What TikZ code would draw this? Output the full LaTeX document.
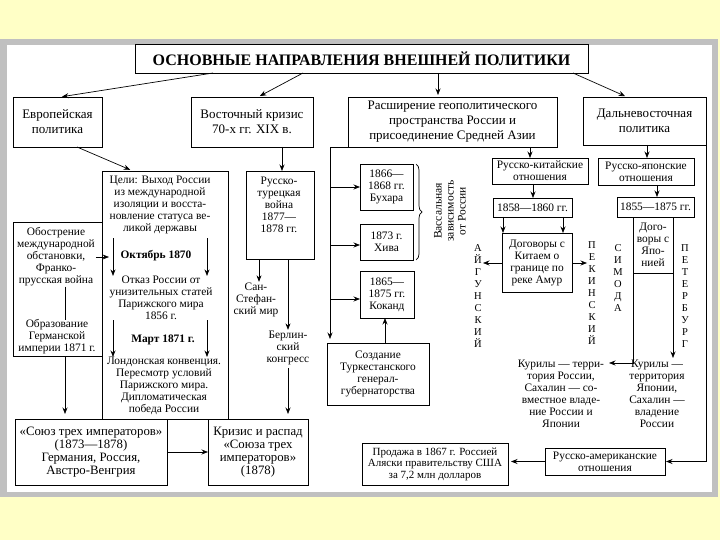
\documentclass[tikz,border=0pt]{standalone}
\usepackage{fontspec}
\setmainfont{Liberation Serif}
\usetikzlibrary{arrows.meta,decorations.pathreplacing,calc}
\definecolor{bgyellow}{RGB}{255,255,198}
\definecolor{framegray}{RGB}{192,192,192}
\newcommand\ftn{\fontsize{11.4}{12}\selectfont}
\newcommand\fttop{\fontsize{13}{15}\selectfont}
\newcommand\ftbig{\fontsize{12.8}{13}\selectfont}
\begin{document}
\begin{tikzpicture}[x=1pt,y=-1pt,
 box/.style={draw, line width=0.8pt, inner sep=0pt, outer sep=0pt, align=center, anchor=north west, font=\ftn},
 lbl/.style={align=center, inner sep=0pt, font=\ftn},
 arr/.style={-{Stealth[length=6.5pt,width=5pt]}, line width=0.7pt},
 ln/.style={line width=0.7pt},
 vcol/.style={align=center, inner sep=0pt, font=\fontsize{10.5}{11.9}\selectfont}]
\useasboundingbox (0,0) rectangle (720,540);
\fill[bgyellow] (0,0) rectangle (720,540);
\fill[framegray] (0,39) rectangle (718,497);
\fill[white] (7,45) rectangle (712,492);

% title
\node[box, minimum width=453pt, minimum height=29pt, font={\fontsize{16}{18}\selectfont\bfseries}] (title) at (135,44) {ОСНОВНЫЕ НАПРАВЛЕНИЯ ВНЕШНЕЙ ПОЛИТИКИ};

% row 1
\node[box, font=\fttop, minimum width=89pt, minimum height=50pt] (eur) at (13,97) {Европейская\\политика};
\node[box, font=\fttop, minimum width=122pt, minimum height=50pt] (vost) at (191,97) {Восточный кризис\\70-х гг. XIX в.};
\node[box, font=\fttop, minimum width=209pt, minimum height=50pt] (ras) at (348,97) {Расширение геополитического\\пространства России и\\присоединение Средней Азии};
\node[box, font=\fttop, minimum width=123pt, minimum height=48pt] (dal) at (583,97) {Дальневосточная\\политика};

% European block
\node[box, minimum width=126pt, minimum height=248pt] (celi) at (102,171) {};
\node[box, minimum width=89pt, minimum height=134pt] (obostr) at (13,222) {};
\node[lbl] (obtext) at (56,257) {Обострение\\международной\\обстановки,\\Франко-\\прусская война};
\node[lbl] (obr) at (57,337) {Образование\\Германской\\империи 1871 г.};
\node[lbl] (celitext) at (160,205) {Цели: Выход России\\из международной\\изоляции и восста-\\новление статуса ве-\\ликой державы};
\node[lbl, font=\ftn\bfseries] (okt) at (156,256) {Октябрь 1870};
\node[lbl] (otkaz) at (161,298) {Отказ России от\\унизительных статей\\Парижского мира\\1856 г.};
\node[lbl, font=\ftn\bfseries] (mart) at (163,340) {Март 1871 г.};
\node[lbl] (lond) at (164,386) {Лондонская конвенция.\\Пересмотр условий\\Парижского мира.\\Дипломатическая\\победа России};
\node[box, font=\ftbig, minimum width=152pt, minimum height=66pt] (soyuz) at (15,419) {«Союз трех императоров»\\(1873—1878)\\Германия, Россия,\\Австро-Венгрия};
\node[box, font=\ftbig, minimum width=100pt, minimum height=66pt] (kriz) at (208,419) {Кризис и распад\\«Союза трех\\императоров»\\(1878)};
\coordinate (obtip) at (109,257);

% Eastern crisis
\node[box, minimum width=68pt, minimum height=88pt] (rt) at (246,171) {};
\node[lbl] (rttext) at (279,205) {Русско-\\турецкая\\война\\1877—\\1878 гг.};
\node[lbl] (san) at (256,300) {Сан-\\Стефан-\\ский мир};
\node[lbl] (berl) at (288,348) {Берлин-\\ский\\конгресс};

% Central Asia
\coordinate (rc) at (330,147);
\node[box, minimum width=53pt, minimum height=46pt] (buh) at (360,164) {1866—\\1868 гг.\\Бухара};
\node[box, minimum width=53pt, minimum height=36pt] (hiva) at (360,224) {1873 г.\\Хива};
\node[box, minimum width=54pt, minimum height=47pt] (kok) at (360,271) {1865—\\1875 гг.\\Коканд};
\node[box, minimum width=102pt, minimum height=62pt] (sozd) at (327,343) {Создание\\Туркестанского\\генерал-\\губернаторства};
\node[lbl, rotate=90, font=\fontsize{11.5}{12}\selectfont] (vass) at (450,211) {Вассальная\\зависимость\\от России};

% Far East
\node[box, minimum width=96pt, minimum height=26pt] (rk) at (492,158) {Русско-китайские\\отношения};
\node[box, minimum width=96pt, minimum height=27pt] (rj) at (598,158) {Русско-японские\\отношения};
\node[box, minimum width=79pt, minimum height=19pt] (d58) at (493,198) {1858—1860 гг.};
\node[box, minimum width=70pt, minimum height=59pt] (dk) at (502,233) {Договоры с\\Китаем о\\границе по\\реке Амур};
\node[box, minimum width=77pt, minimum height=20pt] (d55) at (617,197) {1855—1875 гг.};
\node[box, minimum width=40pt, minimum height=56pt] (dj) at (633,217) {Дого-\\воры с\\Япо-\\нией};
\node[vcol] (aig) at (478,296) {А\\Й\\Г\\У\\Н\\С\\К\\И\\Й};
\node[vcol] (pek) at (592,293) {П\\Е\\К\\И\\Н\\С\\К\\И\\Й};
\node[vcol] (sim) at (618,278) {С\\И\\М\\О\\Д\\А};
\node[vcol] (pet) at (685,296) {П\\Е\\Т\\Е\\Р\\Б\\У\\Р\\Г};
\node[lbl] (kur1) at (561,394) {Курилы — терри-\\тория России,\\Сахалин — со-\\вместное владе-\\ние России и\\Японии};
\node[lbl] (kur2) at (657,394) {Курилы —\\территория\\Японии,\\Сахалин —\\владение\\России};
\node[box, minimum width=120pt, minimum height=27pt] (ra) at (545,448) {Русско-американские\\отношения};
\node[box, font=\fontsize{11}{11.5}\selectfont, minimum width=146pt, minimum height=42pt] (pr) at (362,443) {Продажа в 1867 г. Россией\\Аляски правительству США\\за 7,2 млн долларов};
\coordinate (kurtip) at (609,363);

% connectors from title
\draw[arr, shorten >=2pt] (title.south -| 213,0) -- (eur.north -| 60,0);
\draw[arr, shorten >=2pt] (title.south -| 303,0) -- (vost.north -| 258,0);
\draw[arr, shorten >=2pt] (title.south -| 438,0) -- (ras.north -| 438,0);
\draw[arr, shorten >=2pt] (title.south -| 573,0) -- (dal.north -| 627,0);

% European
\draw[arr, shorten >=3pt] (eur.south -| 77,0) -- (celi.north -| 133,0);
\draw[arr] (obtext.east |- obtip) ++(1,0) -- (obtip);
\draw[ln] (obtext.south -| 65,0) -- (obr.north -| 65,0);
\draw[arr, shorten >=5pt] (obostr.south -| 65,0) -- (soyuz.north -| 65,0);
\draw[arr] (celitext.south -| 113,0) ++(0,4) -- (otkaz.north -| 113,0);
\draw[arr] (celitext.south -| 207,0) ++(0,4) -- (otkaz.north -| 207,0);
\draw[arr] (otkaz.south -| 113,0) -- (lond.north -| 113,0);
\draw[arr] (otkaz.south -| 207,0) -- (lond.north -| 207,0);
\draw[arr] (soyuz) -- (kriz);

% Eastern crisis
\draw[arr] (vost.south -| 282,0) -- (rt.north -| 282,0);
\draw[arr, shorten >=1pt] (rt.south -| 259,0) -- (san.north -| 259,0);
\draw[arr, shorten >=1pt] (rt.south -| 288,0) -- (berl.north -| 288,0);
\draw[arr, shorten >=5pt] (berl.south -| 288,0) ++(0,3) -- (kriz.north -| 288,0);

% Central Asia
\draw[arr, shorten >=4pt] (ras.south west) -- (rc) -- (rc |- sozd.north);
\draw[arr] (rc |- buh.west) -- (buh.west);
\draw[arr] (rc |- 0,245) -- (hiva.west |- 0,245);
\draw[arr] (rc |- 0,299) -- (kok.west |- 0,299);
\draw[arr] (sozd.north -| 385,0) -- (kok.south -| 385,0);
\draw[ln, decorate, decoration={brace, amplitude=6pt}] ([xshift=3pt]buh.north east) -- ([xshift=3pt]hiva.south east);

% Far East
\draw[arr] (ras.south -| 530,0) -- (rk.north -| 530,0);
\draw[arr] (dal.south -| 647,0) -- (rj.north -| 647,0);
\draw[arr] (rk.south -| 533,0) -- (d58.north -| 533,0);
\draw[arr] (d58.south -| 503,0) -- (dk.north -| 503,0);
\draw[arr] (d58.south -| 563,0) -- (dk.north -| 563,0);
\draw[arr, shorten >=1pt] (dk.west |- 0,263) -- (aig.east |- 0,263);
\draw[arr, shorten >=1pt] (dk.east |- 0,263) -- (pek.west |- 0,263);
\draw[arr] (rj.south -| 657,0) -- (d55.north -| 657,0);
\draw[arr] (dj.south west) -- (dj.south west |- kurtip) -- (kurtip);
\draw[arr] (dj.south east) -- (dj.south east |- 0,358);
\draw[arr, shorten >=1pt] (dal.south east) -- (dal.south east |- ra.east) -- (ra.east);
\draw[arr, shorten >=3pt] (ra.west) -- (ra.west -| pr.east);
\end{tikzpicture}
\end{document}
